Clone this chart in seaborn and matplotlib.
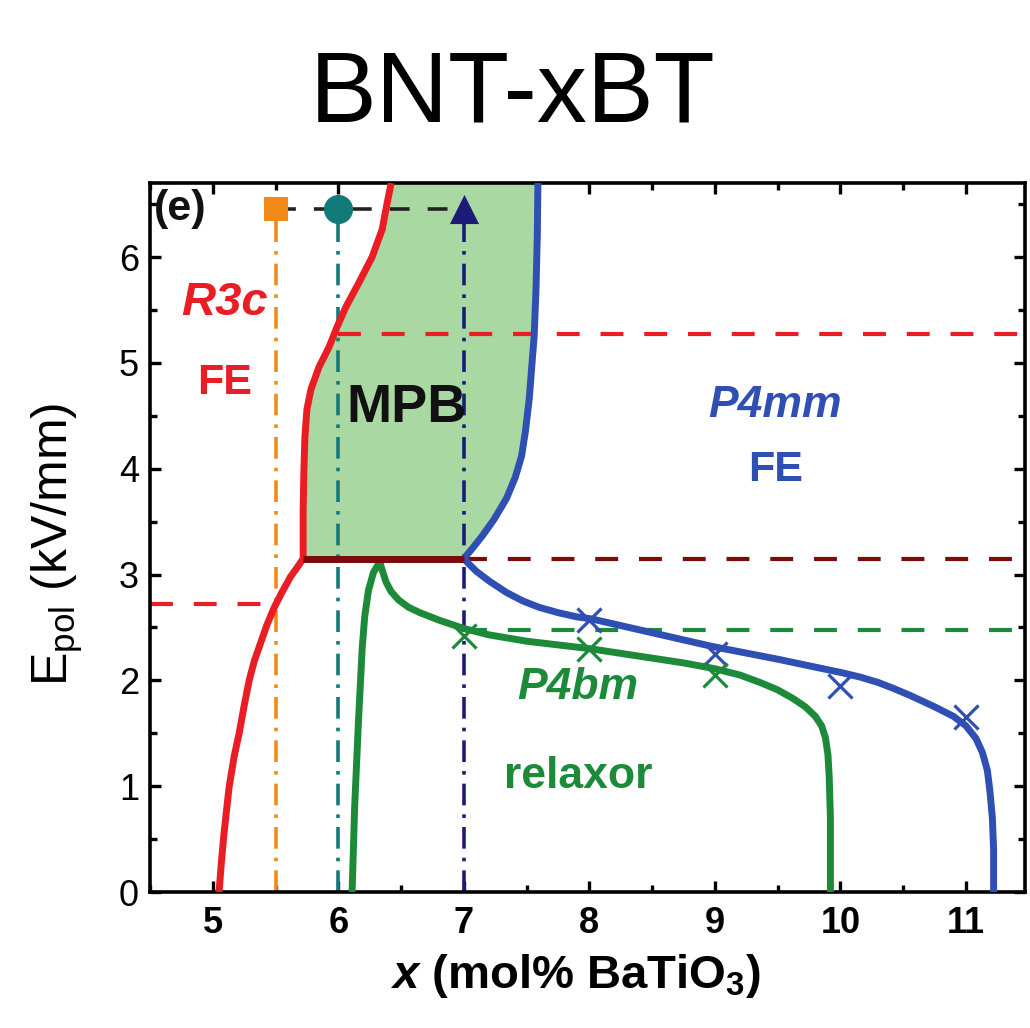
import numpy as np
import pandas as pd
import matplotlib
matplotlib.use("Agg")
import matplotlib.pyplot as plt
import seaborn as sns

# ---------------- data ----------------
red_x = [5.05, 5.07, 5.09, 5.13, 5.17, 5.21, 5.25, 5.29, 5.33, 5.38, 5.43, 5.49, 5.55, 5.62, 5.68, 5.72,
         5.72, 5.726, 5.734, 5.750, 5.782, 5.846, 5.926, 5.990, 6.061, 6.165, 6.269, 6.349, 6.389, 6.421]
red_y = [0.00, 0.30, 0.56, 0.99, 1.28, 1.50, 1.76, 2.00, 2.18, 2.35, 2.52, 2.69, 2.83, 2.98, 3.08, 3.15,
         3.60, 3.99, 4.30, 4.56, 4.75, 4.96, 5.15, 5.34, 5.53, 5.76, 6.00, 6.26, 6.51, 6.70]

blue_up_x = [7.00, 7.07, 7.15, 7.24, 7.34, 7.41, 7.46, 7.49, 7.52, 7.54, 7.56, 7.575, 7.585, 7.59]
blue_up_y = [3.15, 3.25, 3.37, 3.52, 3.72, 3.92, 4.12, 4.35, 4.65, 4.95, 5.25, 5.70, 6.20, 6.70]

blue_lo_x = [7.00, 7.04, 7.10, 7.20, 7.34, 7.47, 7.60, 7.75, 7.90, 8.02, 8.50, 8.98, 9.50, 10.02,
             10.16, 10.30, 10.42, 10.55, 10.75, 10.90, 11.00, 11.08, 11.13, 11.17, 11.19, 11.21, 11.22, 11.22]
blue_lo_y = [3.15, 3.10, 3.03, 2.94, 2.83, 2.75, 2.69, 2.64, 2.60, 2.58, 2.45, 2.32, 2.20, 2.07,
             2.03, 1.98, 1.925, 1.86, 1.75, 1.66, 1.57, 1.45, 1.32, 1.15, 0.96, 0.70, 0.40, 0.00]

green_x = [6.11, 6.12, 6.13, 6.145, 6.16, 6.175, 6.19, 6.21, 6.24, 6.28, 6.33,
           6.35, 6.38, 6.42, 6.48, 6.56, 6.65, 6.80, 7.00, 7.20, 7.50, 8.00, 8.50, 8.75, 9.00,
           9.10, 9.20, 9.36, 9.50, 9.62, 9.72, 9.80, 9.85, 9.88, 9.90, 9.91, 9.92, 9.92]
green_y = [0.00, 0.40, 0.80, 1.20, 1.60, 1.95, 2.30, 2.60, 2.85, 3.02, 3.12,
           3.04, 2.93, 2.84, 2.76, 2.69, 2.64, 2.57, 2.49, 2.43, 2.37, 2.30, 2.21, 2.165, 2.11,
           2.08, 2.05, 1.98, 1.91, 1.83, 1.75, 1.66, 1.57, 1.46, 1.30, 1.10, 0.70, 0.00]

blue_cross_x = [8, 9, 10, 11]
blue_cross_y = [2.57, 2.25, 1.95, 1.65]
green_cross_x = [7, 8, 9]
green_cross_y = [2.42, 2.30, 2.05]

e_top = 3.15          # MPB lower edge (solid maroon)
e_red_low = 2.72
e_red_high = 5.27
e_green = 2.48
e_marker = 6.45
x_orange, x_teal, x_navy = 5.5, 6.0, 7.0

xticks = [5, 6, 7, 8, 9, 10, 11]
yticks = [0, 1, 2, 3, 4, 5, 6]

# ---------------- colors ----------------
RED = "#ea1c24"
BLUE = "#2f4fb4"
GREEN = "#1d8a3a"
MAROON = "#7d0a0a"
ORANGE = "#f28a1a"
TEAL = "#137a7a"
NAVY = "#1c1c78"
FILL = "#aad8a2"

sns.set_theme(style="ticks")
plt.rcParams['font.family'] = ['Liberation Sans', 'DejaVu Sans']
plt.rcParams['mathtext.fontset'] = 'custom'
plt.rcParams['mathtext.rm'] = 'Liberation Sans'
plt.rcParams['mathtext.it'] = 'Liberation Sans:italic'
plt.rcParams['mathtext.bf'] = 'Liberation Sans:bold'
plt.rcParams['mathtext.bfit'] = 'Liberation Sans:bold:italic'
for k in ['text.color', 'axes.labelcolor', 'xtick.color', 'ytick.color', 'axes.edgecolor']:
    plt.rcParams[k] = 'black'

fig = plt.figure(figsize=(10.3, 10.28), dpi=100)
ax = fig.add_axes([150/1030, 1-892/1028, 875/1030, 709/1028])
XMIN, XMAX, YMIN, YMAX = 4.5, 11.47, 0.0, 6.7

# MPB fill between red and blue upper branches
red_up_idx = [i for i, y in enumerate(red_y) if y >= e_top]
ry = np.array([red_y[i] for i in red_up_idx])
rx = np.array([red_x[i] for i in red_up_idx])
yy = np.linspace(e_top, YMAX, 400)
ax.fill_betweenx(yy, np.interp(yy, ry, rx), np.interp(yy, blue_up_y, blue_up_x),
                 color=FILL, lw=0, zorder=1)

# dashed horizontal guide lines
dash = (5.5, 5.0)
ax.plot([x_orange, x_navy], [e_marker, e_marker], color="#222222", lw=2.6, dashes=dash, zorder=2)
ax.plot([XMIN, x_orange], [e_red_low, e_red_low], color=RED, lw=3, dashes=dash, zorder=2)
ax.plot([x_teal, XMAX], [e_red_high, e_red_high], color=RED, lw=3, dashes=dash, zorder=2)
ax.plot([x_navy, XMAX], [e_top, e_top], color=MAROON, lw=3, dashes=dash, zorder=2)
ax.plot([x_navy, XMAX], [e_green, e_green], color=GREEN, lw=3, dashes=dash, zorder=2)

# vertical dash-dot lines
dd = (6.0, 2.5, 1.0, 2.5)
for xv, c in [(x_orange, ORANGE), (x_teal, TEAL), (x_navy, NAVY)]:
    ax.plot([xv, xv], [0, e_marker], color=c, lw=2.6, dashes=dd, zorder=2)

# phase boundary curves
curves = pd.concat([
    pd.DataFrame({"x": red_x, "y": red_y, "c": "red"}),
    pd.DataFrame({"x": blue_up_x, "y": blue_up_y, "c": "blue_up"}),
    pd.DataFrame({"x": blue_lo_x, "y": blue_lo_y, "c": "blue_lo"}),
    pd.DataFrame({"x": green_x, "y": green_y, "c": "green"}),
])
n_before = len(ax.lines)
sns.lineplot(data=curves, x="x", y="y", hue="c", units="c", estimator=None, sort=False,
             palette={"red": RED, "blue_up": BLUE, "blue_lo": BLUE, "green": GREEN},
             linewidth=5.0, legend=False, ax=ax, zorder=4)
for ln in ax.lines[n_before:]:
    ln.set_linewidth(5.0)
    ln.set_solid_capstyle('butt')
    ln.set_solid_joinstyle('round')

# solid maroon MPB base
ax.plot([red_x[red_up_idx[0]], x_navy], [e_top, e_top], color=MAROON, lw=5.0,
        solid_capstyle='butt', zorder=5)

# crosses
sns.scatterplot(x=blue_cross_x, y=blue_cross_y, marker="x", s=300, color=BLUE,
                linewidth=2.3, ax=ax, zorder=6)
sns.scatterplot(x=green_cross_x, y=green_cross_y, marker="x", s=300, color=GREEN,
                linewidth=2.3, ax=ax, zorder=6)

# top markers
ax.scatter([x_orange], [e_marker], marker="s", s=320, color=ORANGE, zorder=7, linewidths=0)
ax.scatter([x_teal], [e_marker], marker="o", s=440, color=TEAL, zorder=7, linewidths=0)
ax.scatter([x_navy], [e_marker], marker="^", s=440, color=NAVY, zorder=7, linewidths=0)

# annotations
ax.text(4.53, 6.455, "(e)", fontsize=31, fontweight='bold', color='#111111', ha='left', va='center', zorder=8)
ax.text(5.09, 5.57, "R3c", fontsize=34, fontweight='bold', style='italic', color=RED, ha='center', va='center')
ax.text(5.09, 4.81, "FE", fontsize=31, fontweight='bold', color=RED, ha='center', va='center')
ax.text(6.54, 4.57, "MPB", fontsize=39, fontweight='bold', color='#111111', ha='center', va='center', zorder=8)
ax.text(9.48, 4.60, "P4mm", fontsize=32, fontweight='bold', style='italic', color=BLUE, ha='center', va='center')
ax.text(9.48, 3.99, "FE", fontsize=31, fontweight='bold', color=BLUE, ha='center', va='center')
ax.text(7.91, 1.93, "P4bm", fontsize=32, fontweight='bold', style='italic', color=GREEN, ha='center', va='center')
ax.text(7.91, 1.09, "relaxor", fontsize=32, fontweight='bold', color=GREEN, ha='center', va='center')

# axes styling
ax.set_xlim(XMIN, XMAX)
ax.set_ylim(YMIN, YMAX)
ax.set_xticks(xticks)
ax.set_yticks(yticks)
ax.set_xticks(np.arange(4.5, 11.5, 0.5), minor=True)
ax.set_yticks(np.arange(0, 6.75, 0.5), minor=True)
ax.tick_params(which='both', direction='in', top=True, right=True, width=2.4, color='black')
ax.tick_params(which='major', length=8)
ax.tick_params(which='minor', length=5)
ax.tick_params(axis='x', which='major', labelsize=26, pad=10)
ax.tick_params(axis='y', which='major', labelsize=26, pad=8)
for lab in ax.get_xticklabels():
    lab.set_fontweight('bold')
for s in ax.spines.values():
    s.set_linewidth(2.6)
    s.set_color('black')

ax.set_xlabel(r"$\mathbfit{x}$ (mol% BaTiO$_\mathbf{3}$)", fontsize=34, fontweight='bold')
ax.set_ylabel(r"E$_\mathrm{pol}$ (kV/mm)", fontsize=36)
ax.xaxis.set_label_coords(0.486, -0.085)
ax.yaxis.set_label_coords(-0.074, 0.49)

fig.text(0.498, 1-122/1028, "BNT-xBT", fontsize=72, ha='center', va='baseline', color='black')

fig.savefig("out.png", dpi=100)
